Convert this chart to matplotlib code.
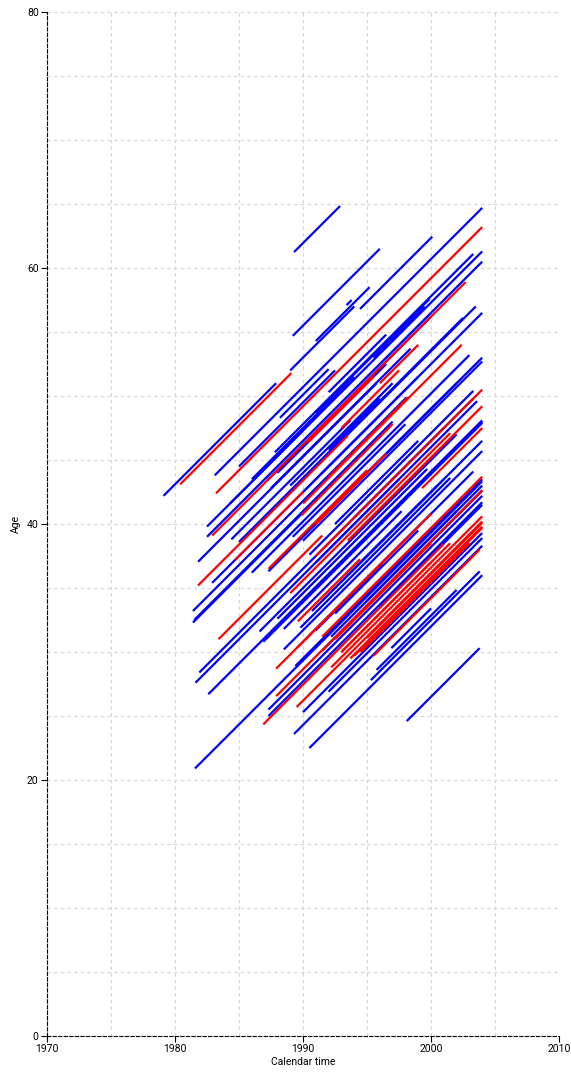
import matplotlib
matplotlib.use("Agg")
import matplotlib.pyplot as plt
import numpy as np

plt.rcParams['font.family'] = ['Roboto', 'DejaVu Sans']

# Lexis segments: entry year, entry age, exit year
blue_start = [1979.1, 1989.3, 1989.2, 1991.0, 1994.45, 1993.4, 1981.56, 1982.6, 1981.6, 1981.9,
              1981.4, 1981.4, 1981.5, 1982.9, 1986.6, 1986.9, 1987.3, 1987.3, 1989.3, 1990.5,
              1990.7, 1998.1, 1995.3, 1996.9, 1989.4, 1992.2, 1995.75, 1982.5, 1982.5, 1981.8,
              1984.4, 1986.9, 1984.3, 1987.8, 1988.2, 1989.2, 1990.5, 1987.2, 1983.1, 1987.3,
              1990.0, 1988.5, 1991.5, 1990.0, 1992.0, 1990.5, 1989.8, 1988.0, 1988.5, 1991.0,
              1985.0, 1986.0, 1987.5, 1991.0, 1985.0, 1986.0, 1993.0, 1994.0, 1991.5, 1992.5,
              1988.0, 1989.0, 1990.0, 1991.5, 1992.0, 1993.0, 1992.5, 1994.0, 1991.0, 1993.5,
              1995.0, 1996.0, 1989.0, 1992.0, 1995.5, 1997.0]
blue_age = [42.2, 61.25, 54.7, 54.3, 56.8, 57.1, 20.9, 26.7, 27.6, 28.4,
            33.2, 32.3, 32.5, 35.4, 31.6, 30.8, 25.5, 25.0, 23.6, 22.5,
            33.2, 24.6, 27.8, 30.3, 28.9, 31.2, 28.6, 39.8, 39.0, 37.05,
            38.8, 40.4, 41.6, 45.6, 48.3, 39.0, 37.6, 43.4, 43.8, 36.3,
            38.7, 30.2, 30.1, 25.3, 26.9, 31.3, 31.9, 32.6, 31.8, 31.7,
            38.6, 36.2, 42.8, 48.7, 44.5, 43.5, 35.5, 38.0, 34.0, 33.0,
            44.0, 43.0, 42.5, 44.0, 45.8, 42.0, 40.0, 40.5, 37.0, 36.0,
            34.0, 33.5, 52.0, 50.3, 53.0, 46.0]
blue_end = [1987.9, 1992.9, 1996.0, 1995.2, 2000.1, 1993.8, 2004.0, 2004.0, 2003.6, 2003.3,
            1998.1, 1995.8, 1997.0, 2004.0, 2002.0, 2004.0, 2004.0, 2004.0, 2004.0, 2004.0,
            2001.0, 2003.8, 2003.8, 2000.0, 2004.0, 2004.0, 2002.0, 2004.0, 2004.0, 1995.75,
            1993.7, 2003.5, 1990.0, 2003.3, 1992.0, 1998.0, 2003.3, 2000.0, 2004.0, 2004.0,
            2004.0, 2004.0, 2004.0, 2004.0, 2004.0, 2003.3, 2001.5, 1999.7, 1997.7, 1996.2,
            2002.5, 2003.0, 1998.4, 1999.9, 1992.5, 1994.0, 2004.0, 2004.0, 2000.5, 1999.0,
            1996.5, 1997.0, 1996.0, 1999.0, 1996.0, 2000.5, 1999.0, 2001.0, 1997.5, 1999.5,
            2002.0, 2004.0, 1994.0, 1996.5, 1999.5, 2002.0]

red_start = [1980.4, 1983.2, 1983.4, 1981.8, 1987.9, 1986.9, 1989.6, 1989.5, 1987.9, 1989.5,
             1992.2, 1993.7, 1999.3, 1982.9, 1984.7, 1987.3, 1990.4, 1989.9, 1991.0, 1993.5,
             1991.5, 1995.0, 1990.0, 1995.5, 1989.0, 1992.0, 1994.0, 1993.0,
             1992.5, 1993.0, 1994.5, 1991.0, 1993.0, 1996.0]
red_age = [43.1, 42.4, 31.0, 35.2, 28.7, 24.35, 32.4, 25.7, 26.55, 30.3,
           28.8, 29.5, 42.8, 39.1, 37.2, 36.5, 46.4, 40.7, 37.5, 38.7,
           31.2, 31.1, 41.6, 29.7, 34.6, 43.7, 29.7, 30.0,
           31.0, 30.0, 30.0, 40.0, 47.5, 51.0]
red_end = [1989.1, 2004.0, 1991.5, 1993.5, 1998.0, 2001.0, 1994.45, 2004.0, 2004.0, 2000.0,
           2004.0, 2004.0, 2004.0, 2002.7, 1990.0, 1995.0, 1995.5, 1997.0, 2004.0, 2004.0,
           2004.0, 2004.0, 2002.4, 2003.8, 2001.5, 1998.2, 2004.0, 2000.0,
           2000.0, 2001.5, 2003.0, 1996.5, 1997.5, 1999.0]

fig = plt.figure(figsize=(5.71, 10.75), dpi=100)
ax = fig.add_axes([0.0823, 0.0363, 0.8967, 0.9525])

for s, a, e in zip(blue_start, blue_age, blue_end):
    ax.plot([s, e], [a, a + (e - s)], color='#0000ff', lw=1.6, solid_capstyle='butt')
for s, a, e in zip(red_start, red_age, red_end):
    ax.plot([s, e], [a, a + (e - s)], color='#ff0000', lw=1.6, solid_capstyle='butt')

ax.set_xlim(1970, 2010)
ax.set_ylim(0, 80)
ax.set_xticks(np.arange(1970, 2011, 10))
ax.set_yticks(np.arange(0, 81, 20))
ax.set_xticks(np.arange(1970, 2011, 5), minor=True)
ax.set_yticks(np.arange(0, 81, 5), minor=True)
ax.tick_params(which='minor', length=0)
ax.tick_params(which='major', length=4, width=0.8, labelsize=7.5, direction='out', pad=2)
ax.grid(True, which='both', color='#d4d4d4', linestyle=(0, (3, 3)), linewidth=0.8)
ax.set_axisbelow(True)

for side in ['top', 'right']:
    ax.spines[side].set_visible(False)
for side in ['left', 'bottom']:
    ax.spines[side].set_linestyle((0, (3, 2)))
    ax.spines[side].set_linewidth(0.8)

ax.set_xlabel('Calendar time', fontsize=7.5, labelpad=2)
ax.set_ylabel('Age', fontsize=7.5, labelpad=4)

fig.savefig('out.png', dpi=100)
